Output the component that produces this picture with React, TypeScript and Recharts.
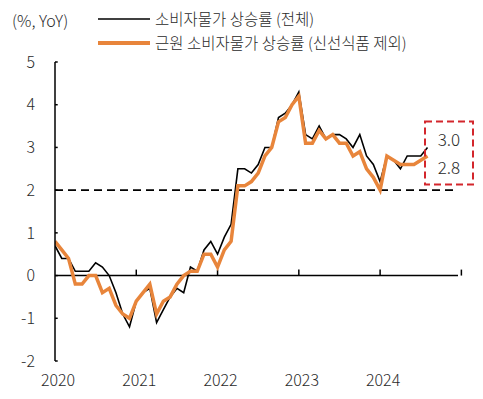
import React from 'react';
import { LineChart, Line, XAxis, YAxis, ReferenceLine } from 'recharts';

const yearLabels = ['2020', '2021', '2022', '2023', '2024'];
const yTicks = [-2, -1, 0, 1, 2, 3, 4, 5];

// Headline CPI YoY (%), monthly Jan 2020 - Aug 2024
const headline = [
  0.7, 0.4, 0.4, 0.1, 0.1, 0.1, 0.3, 0.2, 0.0, -0.4, -0.9, -1.2,
  -0.6, -0.4, -0.3, -1.1, -0.8, -0.5, -0.3, -0.4, 0.2, 0.1, 0.6, 0.8,
  0.5, 0.9, 1.2, 2.5, 2.5, 2.4, 2.6, 3.0, 3.0, 3.7, 3.8, 4.0,
  4.3, 3.3, 3.2, 3.5, 3.2, 3.3, 3.3, 3.2, 3.0, 3.3, 2.8, 2.6,
  2.2, 2.8, 2.7, 2.5, 2.8, 2.8, 2.8, 3.0,
];

// Core CPI (ex fresh food) YoY (%)
const core = [
  0.8, 0.6, 0.4, -0.2, -0.2, 0.0, 0.0, -0.4, -0.3, -0.7, -0.9, -1.0,
  -0.6, -0.4, -0.2, -0.9, -0.6, -0.5, -0.2, 0.0, 0.1, 0.1, 0.5, 0.5,
  0.2, 0.6, 0.8, 2.1, 2.1, 2.2, 2.4, 2.8, 3.0, 3.6, 3.7, 4.0,
  4.2, 3.1, 3.1, 3.4, 3.2, 3.3, 3.1, 3.1, 2.8, 2.9, 2.5, 2.3,
  2.0, 2.8, 2.7, 2.6, 2.6, 2.6, 2.7, 2.8,
];

const data = headline.map((v, i) => ({ i, headline: v, core: core[i] }));
const xTicks = yearLabels.map((_, k) => k * 12);
const yearMarks = [12, 24, 36, 48, 60];

const FONT = '"Noto Sans CJK KR", "Noto Sans", sans-serif';
const ORANGE = '#E8853B';
const RED = '#D3262C';
const TXT = '#2a2a2a';
const W = 300;

export default function App() {
  const last = data.length - 1;
  return (
    <div style={{ position: 'absolute', left: 0, top: 0, width: 483, height: 399, background: '#fff', fontFamily: FONT }}>
      <LineChart width={483} height={399} data={data} margin={{ top: 62, right: 25, bottom: 0, left: 0 }}>
        <XAxis
          dataKey="i"
          type="number"
          domain={[0, 59.5]}
          ticks={xTicks}
          tickFormatter={(v: number) => yearLabels[Math.round(v / 12)]}
          axisLine={false}
          tickLine={false}
          height={38}
          tickMargin={8}
          tick={{ fontSize: 16, fill: TXT, fontFamily: FONT, fontWeight: W, dx: 3 }}
          allowDataOverflow
        />
        <YAxis
          domain={[-2, 5]}
          ticks={yTicks}
          width={55}
          axisLine={{ stroke: '#000', strokeWidth: 1.5 }}
          tickLine={false}
          tickMargin={14}
          tick={{ fontSize: 16, fill: TXT, fontFamily: FONT, fontWeight: W }}
        />
        <ReferenceLine y={0} stroke="#000" strokeWidth={1.5} />
        <ReferenceLine segment={[{ x: 0, y: 2 }, { x: 58.8, y: 2 }]} stroke="#000" strokeWidth={1.8} strokeDasharray="8 5" />
        {yearMarks.map((m) => (
          <ReferenceLine key={'xm' + m} segment={[{ x: m, y: 0 }, { x: m, y: 0.14 }]} stroke="#000" strokeWidth={1.5} ifOverflow="visible" />
        ))}
        {yTicks.map((t) => (
          <ReferenceLine key={'ym' + t} segment={[{ x: 0, y: t }, { x: 0.4, y: t }]} stroke="#000" strokeWidth={1.5} />
        ))}
        <Line type="linear" dataKey="headline" stroke="#000" strokeWidth={1.6} dot={false} isAnimationActive={false} />
        <Line type="linear" dataKey="core" stroke={ORANGE} strokeWidth={3.5} dot={false} isAnimationActive={false} />
      </LineChart>
      <svg width={483} height={399} style={{ position: 'absolute', left: 0, top: 0, pointerEvents: 'none' }}>
        <text x={12} y={20} fontSize={16} fill={TXT} fontFamily={FONT} fontWeight={W} dominantBaseline="central">(%, YoY)</text>
        <line x1={98} x2={150} y1={19} y2={19} stroke="#000" strokeWidth={1.6} />
        <text x={155} y={18} fontSize={15.5} fill={TXT} fontFamily={FONT} fontWeight={W} dominantBaseline="central">소비자물가 상승률 (전체)</text>
        <line x1={98} x2={150} y1={43} y2={43} stroke={ORANGE} strokeWidth={4} />
        <text x={155} y={42} fontSize={15.5} fill={TXT} fontFamily={FONT} fontWeight={W} dominantBaseline="central">근원 소비자물가 상승률 (신선식품 제외)</text>
        <rect x={425} y={121.5} width={48} height={63} fill="none" stroke={RED} strokeWidth={2} strokeDasharray="7 4" />
        <text x={449} y={138} fontSize={17} fill={TXT} fontFamily={FONT} fontWeight={W} textAnchor="middle" dominantBaseline="central">{headline[last].toFixed(1)}</text>
        <text x={449} y={166} fontSize={17} fill={TXT} fontFamily={FONT} fontWeight={W} textAnchor="middle" dominantBaseline="central">{core[last].toFixed(1)}</text>
      </svg>
    </div>
  );
}
